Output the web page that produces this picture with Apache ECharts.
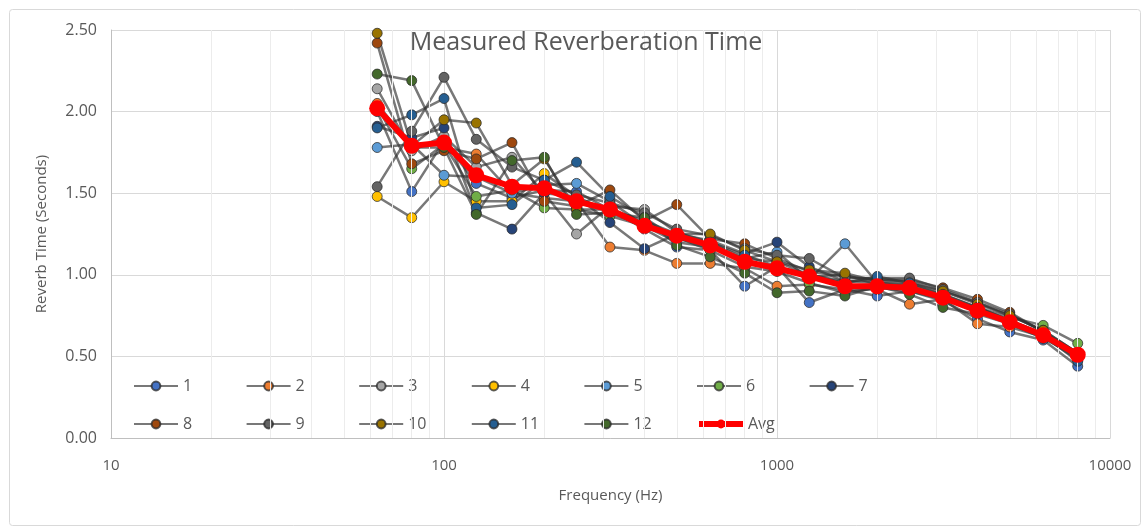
<!DOCTYPE html>
<html>
<head>
<meta charset="utf-8">
<script src="https://cdn.jsdelivr.net/npm/echarts@6/dist/echarts.min.js"></script>
<style>
html,body{margin:0;padding:0;background:#fff;}
#main{width:1145px;height:527px;}
</style>
</head>
<body>
<div id="main"></div>
<script>
const freqs = [63,80,100,125,160,200,250,315,400,500,630,800,1000,1250,1600,2000,2500,3150,4000,5000,6300,8000];
const seriesNames = ['1','2','3','4','5','6','7','8','9','10','11','12'];
const s1  = [2.00,1.51,1.82,1.56,1.47,1.52,1.51,1.40,1.28,1.17,1.15,0.93,1.05,0.83,0.91,0.87,0.90,0.84,0.73,0.65,0.60,0.44];
const s2  = [2.05,1.78,1.78,1.74,1.50,1.47,1.45,1.17,1.15,1.07,1.07,1.04,0.93,0.94,0.91,0.91,0.82,0.85,0.70,0.68,0.62,0.48];
const s3  = [2.14,1.76,1.85,1.66,1.72,1.50,1.25,1.42,1.40,1.26,1.20,1.10,1.08,1.00,0.96,0.95,0.94,0.88,0.80,0.72,0.64,0.52];
const s4  = [1.48,1.35,1.57,1.45,1.45,1.62,1.48,1.38,1.30,1.22,1.18,1.09,1.03,0.99,1.00,0.94,0.92,0.87,0.78,0.71,0.63,0.50];
const s5  = [1.78,1.80,1.61,1.60,1.50,1.55,1.56,1.45,1.30,1.20,1.17,1.10,1.14,0.97,1.19,0.95,0.93,0.86,0.79,0.72,0.64,0.51];
const s6  = [2.03,1.65,1.80,1.48,1.52,1.41,1.40,1.36,1.30,1.23,1.15,1.05,1.02,0.95,0.89,0.92,0.90,0.85,0.80,0.74,0.69,0.58];
const s7  = [1.91,1.84,1.90,1.38,1.28,1.50,1.48,1.32,1.16,1.25,1.21,1.13,1.20,1.05,0.96,0.97,0.96,0.90,0.83,0.75,0.66,0.52];
const s8  = [2.42,1.68,1.76,1.71,1.81,1.45,1.42,1.52,1.33,1.43,1.22,1.19,1.10,1.02,0.99,0.97,0.97,0.92,0.85,0.77,0.65,0.52];
const s9  = [1.54,1.88,2.21,1.83,1.66,1.58,1.49,1.44,1.38,1.28,1.24,1.16,1.12,1.10,0.98,0.98,0.98,0.91,0.83,0.76,0.65,0.50];
const s10 = [2.48,1.79,1.95,1.93,1.55,1.71,1.40,1.40,1.33,1.25,1.25,1.15,1.08,1.03,1.01,0.96,0.95,0.90,0.82,0.75,0.66,0.52];
const s11 = [1.90,1.98,2.08,1.41,1.43,1.58,1.69,1.48,1.35,1.22,1.20,1.12,1.05,1.00,0.95,0.99,0.95,0.88,0.80,0.72,0.63,0.47];
const s12 = [2.23,2.19,1.78,1.37,1.70,1.72,1.37,1.38,1.35,1.18,1.11,1.01,0.89,0.90,0.87,0.93,0.88,0.80,0.76,0.70,0.61,0.50];
const avg = [2.02,1.79,1.81,1.61,1.54,1.53,1.45,1.40,1.30,1.24,1.18,1.08,1.04,0.99,0.93,0.93,0.92,0.86,0.78,0.71,0.63,0.51];
const minorGrid = [20,30,40,50,60,70,80,90,200,300,400,500,600,700,800,900,2000,3000,4000,5000,6000,7000,8000,9000];
const legendRows = [['1','2','3','4','5','6','7'],['8','9','10','11','12','Avg']];

const allSeries = [s1,s2,s3,s4,s5,s6,s7,s8,s9,s10,s11,s12];
const colors = ['#4472C4','#ED7D31','#A5A5A5','#FFC000','#5B9BD5','#70AD47','#264478','#9E480E','#636363','#997300','#255E91','#43682B'];
const FONT = '"Open Sans",sans-serif';

function pairs(vals){ return freqs.map((f,i)=>[f, vals[i]]); }

const series = [{
  name:'__grid', type:'line', data:[[10,0]], showSymbol:false, silent:true, z:1,
  lineStyle:{opacity:0}, tooltip:{show:false},
  markLine:{silent:true, symbol:['none','none'], label:{show:false},
    lineStyle:{color:'#ececec', type:'solid', width:1},
    data: minorGrid.map(v=>({xAxis:v}))}
}];
allSeries.forEach((vals,i)=>{
  series.push({
    name: seriesNames[i], type:'line', data: pairs(vals), z:3,
    symbol:'circle', symbolSize:10,
    itemStyle:{color:colors[i], borderColor:'rgba(40,40,40,0.75)', borderWidth:1},
    lineStyle:{color:'rgba(50,50,50,0.66)', width:2.5}
  });
});
series.push({
  name:'Avg', type:'line', data: pairs(avg), z:5,
  symbol:'circle', symbolSize:16,
  itemStyle:{color:'#FF0000', borderColor:'#FF0000', borderWidth:0},
  lineStyle:{color:'#FF0000', width:6}
});

const legends = [];
legendRows.forEach((row, r)=>{
  row.forEach((name, c)=>{
    legends.push({
      left: 128 + c*112.6, top: 373 + r*38,
      itemWidth:44, itemHeight:11, itemGap:4,
      textStyle:{color:'#595959', fontSize:16, fontFamily:FONT},
      data:[name==='Avg' ? {name:'Avg', lineStyle:{width:6}} : name]
    });
  });
});

const option = {
  animation:false,
  backgroundColor:'#fff',
  title:{text:'Measured Reverberation Time', left:581, top:25, textAlign:'center',
    textStyle:{color:'#595959', fontSize:25, fontWeight:'normal', fontFamily:FONT}},
  grid:{left:111, right:35, top:30, bottom:89},
  legend: legends,
  xAxis:{type:'log', logBase:10, min:10, max:10000,
    name:'Frequency (Hz)', nameLocation:'middle', nameGap:50,
    nameTextStyle:{color:'#595959', fontSize:15, fontFamily:FONT},
    axisLine:{lineStyle:{color:'#bfbfbf'}}, axisTick:{show:false},
    axisLabel:{color:'#595959', fontSize:15, fontFamily:FONT, margin:20,
      formatter:v=>String(Math.round(v))},
    splitLine:{show:true, lineStyle:{color:'#d9d9d9'}}},
  yAxis:{type:'value', min:0, max:2.5, interval:0.5,
    name:'Reverb Time (Seconds)', nameLocation:'middle', nameGap:62, nameRotate:90,
    nameTextStyle:{color:'#595959', fontSize:15, fontFamily:FONT},
    axisLine:{show:true, lineStyle:{color:'#bfbfbf'}}, axisTick:{show:false},
    axisLabel:{color:'#595959', fontSize:16, fontFamily:FONT, margin:14,
      formatter:v=>v.toFixed(2)},
    splitLine:{lineStyle:{color:'#d9d9d9'}}},
  graphic:[{type:'rect', left:7, top:7, shape:{width:1131, height:516, r:3},
    style:{fill:'none', stroke:'#d9d9d9', lineWidth:1}, silent:true, z:-10}],
  series: series
};
const chart = echarts.init(document.getElementById('main'), null, {renderer:'canvas'});
chart.setOption(option);
</script>
</body>
</html>
